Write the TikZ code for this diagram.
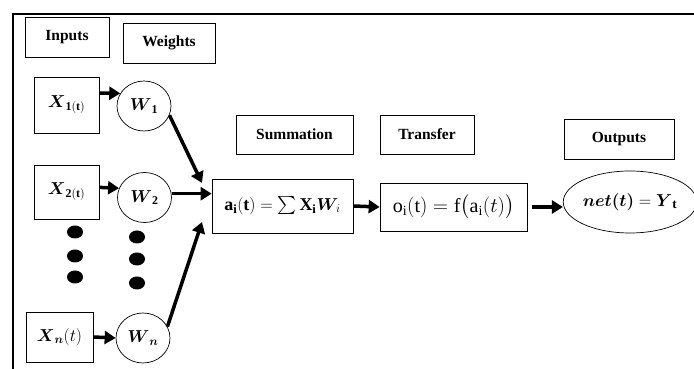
\documentclass[tikz,border=0pt]{standalone}
\usepackage{amsmath,amssymb}
\usepackage{fontspec}
\setmainfont{Liberation Serif}
\usetikzlibrary{arrows.meta,positioning,calc,shapes.geometric}

\begin{document}
\begin{tikzpicture}[x=1pt, y=1pt,
    every node/.style={font=\fontsize{17}{20}\selectfont},
    box/.style={draw, line width=0.7pt, inner sep=0pt},
    label box/.style={box, font=\fontsize{15.5}{18}\selectfont\bfseries},
    weight/.style={draw, ellipse, line width=0.7pt, minimum width=54pt, minimum height=50pt, inner sep=0pt},
    flow/.style={line width=3.5pt, -{Triangle[length=11pt,width=13pt]}}]
    \useasboundingbox (0,0) rectangle (694,369);
    % Frame
    \draw[line width=1.4pt] (13,0) -- (13,355) -- (694,355);
    % Header labels
    \node[label box, minimum width=84pt, minimum height=40pt] (inputs) at (67,332) {Inputs};
    \node[label box, minimum width=92pt, minimum height=40pt] (weights) at (169,326) {Weights};
    \node[label box, minimum width=117pt, minimum height=39pt] (summ) at (294.5,234.5) {Summation};
    \node[label box, minimum width=94pt, minimum height=39pt] (transf) at (427,234.5) {Transfer};
    \node[label box, minimum width=110pt, minimum height=40pt] (outputs) at (619,230) {Outputs};
    % Inputs and weights
    \node[box, minimum width=65pt, minimum height=56pt] (x1) at (66.5,264) {$\boldsymbol{X}_{\mathbf{1(t)}}$};
    \node[weight] (w1) at (144,263) {$\boldsymbol{W}_{\mathbf{1}}$};
    \node[box, minimum width=65pt, minimum height=54pt] (x2) at (66.5,177) {$\boldsymbol{X}_{\mathbf{2(t)}}$};
    \node[weight] (w2) at (144.5,171.5) {$\boldsymbol{W}_{\mathbf{2}}$};
    \node[box, minimum width=67pt, minimum height=50pt] (xn) at (59.5,32) {$\boldsymbol{X}_{\boldsymbol{n}}(t)$};
    \node[weight] (wn) at (143,31) {$\boldsymbol{W}_{\boldsymbol{n}}$};
    % Dots
    \foreach \y in {137,113,92} \fill (75,\y) ellipse [x radius=8, y radius=6.5];
    \foreach \y in {132,110,86} \fill (137,\y) ellipse [x radius=8, y radius=6.5];
    % Summation, transfer and output
    \node[box, minimum width=141pt, minimum height=54pt, font=\fontsize{18}{22}\selectfont] (sum) at (282.5,163)
      {$\mathbf{a}_{\mathbf{i}}(\mathbf{t}) = \sum \mathbf{X}_{\mathbf{i}}\boldsymbol{W}_{\!i}$};
    \node[box, minimum width=147pt, minimum height=48pt, font=\fontsize{20}{24}\selectfont] (tr) at (453.5,162)
      {$\mathrm{o}_{\mathrm{i}}(\mathrm{t}) = \mathrm{f}\big(\mathrm{a}_{\mathrm{i}}(t)\big)$};
    \node[draw, ellipse, line width=0.7pt, minimum width=126pt, minimum height=62pt, inner sep=0pt,
      font=\fontsize{19}{23}\selectfont] (out) at (630,167)
      {$\boldsymbol{net(t)} = \boldsymbol{Y}_{\mathbf{t}}$};
    % Connectors
    \coordinate (s1) at (202,186);
    \coordinate (sn) at (202,147);
    \draw[flow] (x1.20) -- (w1.152);
    \draw[flow] (x2.8) -- (w2.160);
    \draw[flow] (xn.east) -- (wn.west);
    \draw[flow] (w1.-20) -- (s1);
    \draw[flow] (w2.8) -- (sum.west |- w2.8);
    \draw[flow] (wn.25) -- (sn);
    \draw[flow] (sum.east) -- (tr.west);
    \draw[flow, shorten <=5pt] (tr.east) -- (tr.east -| out.west);
\end{tikzpicture}
\end{document}
